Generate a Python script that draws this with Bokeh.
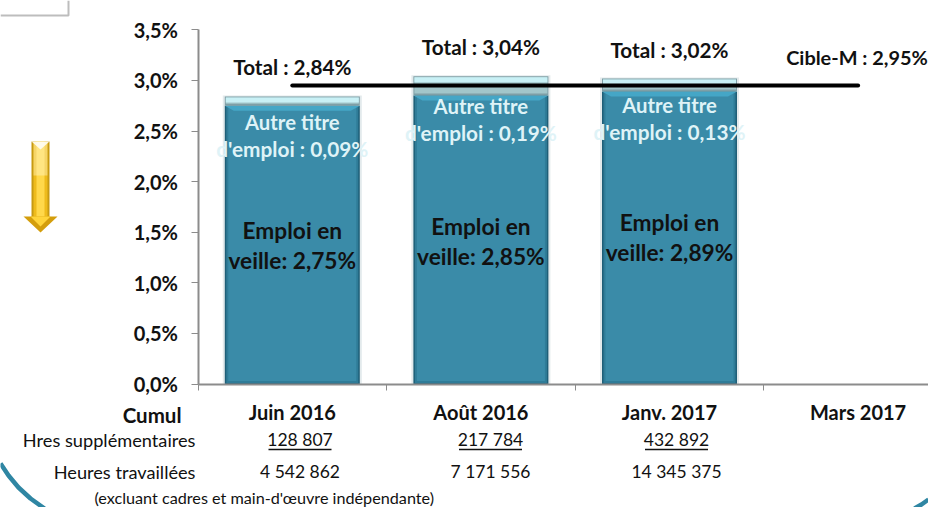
from bokeh.embed import file_html
from bokeh.resources import INLINE
from bokeh.plotting import figure
from bokeh.models import LinearAxis, FixedTicker, Range1d
from bokeh.core.properties import value

months = ["Juin 2016", "Août 2016", "Janv. 2017", "Mars 2017"]
emploi = [2.75, 2.85, 2.89]
autre = [0.09, 0.19, 0.13]
totals = [2.84, 3.04, 3.02]
cible = 2.95
hres_sup = ["128 807", "217 784", "432 892"]
heures = ["4 542 862", "7 171 556", "14 345 375"]
y_ticks = [0, 0.5, 1, 1.5, 2, 2.5, 3, 3.5]

X0, Y0, SX, SY = 197.5, 383.5, 188.6, 101.2
W, H = 928, 507
def dx(px): return (px - X0) / SX
def dy(py): return (Y0 - py) / SY
def px_w(n): return n / SX
def py_h(n): return n / SY

p = figure(width=W, height=H, output_backend="svg", toolbar_location=None,
           x_range=Range1d(dx(0), dx(W)), y_range=Range1d(dy(H), dy(0)),
           x_axis_type=None, y_axis_type=None, min_border=0,
           outline_line_color=None, background_fill_color="white")
p.grid.visible = False
p.styles = {"position": "absolute", "left": "0px", "top": "0px"}
FONT = "Lato"
BAR = 135 / SX
xs = [0.5 + i for i in range(3)]

# y axis
ya = LinearAxis(fixed_location=0, bounds=(0, 3.5), ticker=FixedTicker(ticks=y_ticks),
                major_label_overrides={t: f"{t:.1f}%".replace(".", ",") for t in y_ticks})
ya.axis_line_color = "#8c8c8c"; ya.axis_line_width = 2
ya.major_tick_line_color = "#8c8c8c"; ya.major_tick_in = 0; ya.major_tick_out = 7
ya.minor_tick_line_color = None
ya.major_label_text_font = FONT; ya.major_label_text_font_style = "bold"
ya.major_label_text_font_size = "20px"; ya.major_label_text_color = "#111111"
ya.major_label_standoff = 13
p.add_layout(ya, "left")

# x axis: month labels on majors, category boundaries as minor ticks
xa = LinearAxis(fixed_location=0, bounds=(0, dx(W)),
                ticker=FixedTicker(ticks=[0.5, 1.5, 2.5, 3.5], minor_ticks=[0, 1, 2, 3]),
                major_label_overrides={0.5 + i: m for i, m in enumerate(months)})
xa.axis_line_color = "#8c8c8c"; xa.axis_line_width = 2
xa.major_tick_line_color = None
xa.minor_tick_line_color = "#8c8c8c"; xa.minor_tick_in = 0; xa.minor_tick_out = 6
xa.major_label_text_font = FONT; xa.major_label_text_font_style = "bold"
xa.major_label_text_font_size = "20px"; xa.major_label_text_color = "#111111"
xa.major_label_standoff = 10
p.add_layout(xa, "below")

# soft shadow
p.vbar(x=xs, width=BAR + px_w(4), bottom=0, top=[t + py_h(1) for t in totals],
       fill_color="#e3eaec", line_color=None)
# body: dark edge -> mid -> main
p.vbar(x=xs, width=BAR, bottom=0, top=emploi, fill_color="#1f5f78", line_color=None)
p.vbar(x=xs, width=BAR - px_w(3), bottom=py_h(1), top=emploi, fill_color="#2f7c98", line_color=None)
p.vbar(x=xs, width=BAR - px_w(7), bottom=py_h(3), top=emploi, fill_color="#3a8ba8", line_color=None)
# top bevel of the body
hw = BAR / 2
for x, e in zip(xs, emploi):
    p.patch([x - hw, x + hw, x + hw - px_w(9), x - hw + px_w(9)],
            [e, e, e - py_h(5), e - py_h(5)], fill_color="#45a6c6", line_color=None)
# top segment (Autre titre d'emploi)
p.vbar(x=xs, width=BAR, bottom=emploi, top=totals, fill_color="#7f9fa6", line_color=None)
p.vbar(x=xs, width=BAR - px_w(2), bottom=[e + py_h(2) for e in emploi],
       top=[t - py_h(1) for t in totals], fill_color="#a2c6ca", line_color=None)
p.vbar(x=xs, width=BAR - px_w(2), bottom=[t - py_h(6) for t in totals],
       top=[t - py_h(1) for t in totals], fill_color="#c8f0f5", line_color=None)

# target line
p.line([0.5, 3.5], [cible, cible], line_color="black", line_width=4, line_cap="round")

def txt(x, y, s, size, color="#111111", style="normal", align="center"):
    p.text(x=[x], y=[y], text=[s], text_font=value(FONT), text_font_size=f"{size}px",
           text_color=color, text_font_style=style, text_align=align, text_baseline="middle")

for x, t, py in zip(xs, totals, [66, 46, 49]):
    txt(x, dy(py), f"Total : {t:.2f}%".replace(".", ","), 20.7, style="bold")
txt(dx(856.5), dy(56), f"Cible-M : {cible:.2f}%".replace(".", ","), 19.9, style="bold")

for x, a, py in zip(xs, autre, [121, 105, 104]):
    txt(x, dy(py), "Autre titre", 20.3, color="#dff3f7", style="bold")
    txt(x, dy(py + 27), f"d'emploi : {a:.2f}%".replace(".", ","), 20.8, color="#dff3f7", style="bold")

for x, e, py in zip(xs, emploi, [230, 226, 222]):
    txt(x, dy(py), "Emploi en", 22.7, style="bold")
    txt(x, dy(py + 30), f"veille: {e:.2f}%".replace(".", ","), 22.7, style="bold")

txt(dx(181), dy(414), "Cumul", 20.5, style="bold", align="right")
txt(dx(195), dy(439), "Hres supplémentaires", 18.2, align="right")
txt(dx(195), dy(471), "Heures travaillées", 18.2, align="right")
txt(dx(94), dy(497), "(excluant cadres et main-d'œuvre indépendante)", 16.2, align="left")

for cx, s, h in zip([299.5, 490, 676], hres_sup, heures):
    txt(dx(cx), dy(439), s, 17.5)
    txt(dx(cx), dy(471), h, 17.5)
    p.segment([dx(cx - 31.5)], [dy(449)], [dx(cx + 31.5)], [dy(449)], line_color="#111111", line_width=1.3)

# decoration: box top-left
p.line([dx(0), dx(68), dx(68)], [dy(15), dy(15), dy(0)], line_color="#bdbdbd", line_width=2)

# decoration: yellow arrow
for l, r, c in [(31, 49, "#c79a12"), (33, 47, "#eebb1c"), (36, 44, "#ffd84a")]:
    p.quad(left=[dx(l)], right=[dx(r)], top=[dy(141)], bottom=[dy(222)], fill_color=c, line_color=None)
p.quad(left=[dx(33)], right=[dx(47)], top=[dy(141)], bottom=[dy(175)], fill_color="#fff6c8", fill_alpha=0.45, line_color=None)
p.patch([dx(31), dx(40), dx(49)], [dy(141), dy(149), dy(141)], fill_color="#ffffff", fill_alpha=0.85, line_color=None)
p.patch([dx(23), dx(57), dx(40)], [dy(216), dy(216), dy(232)], fill_color="#d49e0c", line_color=None)
p.patch([dx(30), dx(50), dx(40)], [dy(216), dy(216), dy(226)], fill_color="#ffd43a", line_color=None)

# decoration: teal arcs at the bottom corners
p.line([dx(0), dx(8), dx(18), dx(30), dx(44)], [dy(463), dy(475), dy(487), dy(498), dy(508)],
       line_color="#2f86a3", line_width=4.5)
p.line([dx(914), dx(921), dx(928)], [dy(508), dy(504), dy(499)], line_color="#2f86a3", line_width=4.5)

open("out.html", "w").write(file_html(p, INLINE))
